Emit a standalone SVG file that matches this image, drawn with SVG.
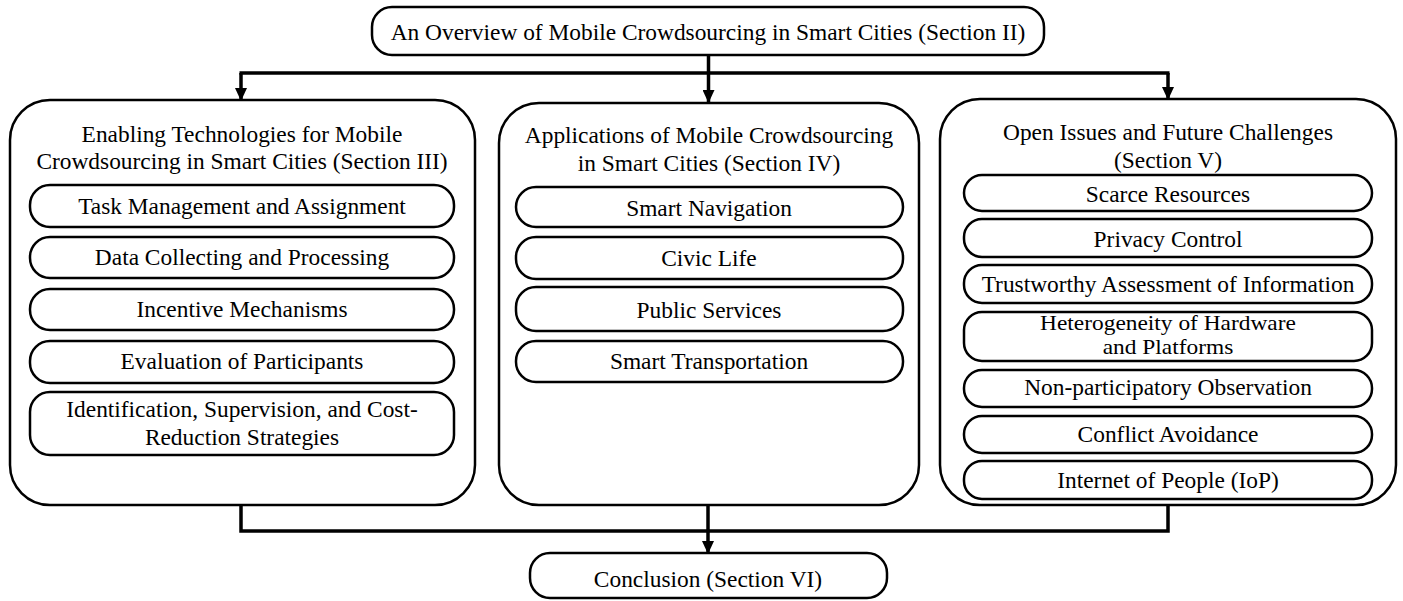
<svg xmlns="http://www.w3.org/2000/svg" width="1403" height="601" viewBox="0 0 1403 601">
<style>
.box{fill:#fff;stroke:#000;stroke-width:2.5}
.sub{fill:#fff;stroke:#000;stroke-width:2.5}
.t{font-family:'Liberation Serif','DejaVu Serif',serif;font-size:23.4px;fill:#000;text-anchor:middle}
.t2{font-family:'Liberation Serif','DejaVu Serif',serif;font-size:20px;fill:#000;text-anchor:middle}
.c{fill:none;stroke:#000;stroke-width:3.5}
</style>
<defs>
<marker id="ah" markerWidth="13" markerHeight="12" refX="12" refY="6" orient="auto" markerUnits="userSpaceOnUse" viewBox="0 0 13 12">
<path d="M0,0 L13,6 L0,12 z" fill="#000"/>
</marker>
</defs>
<g id="connectors">
<path class="c" d="M708.5,55 V73"/>
<path class="c" d="M239.5,73 H1169.5"/>
<path class="c" d="M241,73 V100" marker-end="url(#ah)"/>
<path class="c" d="M708.5,73 V102" marker-end="url(#ah)"/>
<path class="c" d="M1168,73 V99" marker-end="url(#ah)"/>
<path class="c" d="M241,505 V531 H1168 V505"/>
<path class="c" d="M708,505 V553" marker-end="url(#ah)"/>
</g>
<g id="top">
<rect class="box" x="372" y="7" width="672" height="48" rx="20"/>
<text class="t" x="708" y="40">An Overview of Mobile Crowdsourcing in Smart Cities (Section II)</text>
</g>
<g id="sec3">
<rect class="box" x="10" y="100" width="465" height="405" rx="40"/>
<text class="t" x="242" y="142">Enabling Technologies for Mobile</text>
<text class="t" x="242" y="169">Crowdsourcing in Smart Cities (Section III)</text>
</g>
<g id="s3-1"><rect class="sub" x="30" y="185" width="424" height="42" rx="20"/><text class="t" x="242" y="214">Task Management and Assignment</text></g>
<g id="s3-2"><rect class="sub" x="30" y="237" width="424" height="41" rx="20"/><text class="t" x="242" y="265">Data Collecting and Processing</text></g>
<g id="s3-3"><rect class="sub" x="30" y="289" width="424" height="41" rx="20"/><text class="t" x="242" y="317">Incentive Mechanisms</text></g>
<g id="s3-4"><rect class="sub" x="30" y="341" width="424" height="42" rx="20"/><text class="t" x="242" y="369">Evaluation of Participants</text></g>
<g id="s3-5"><rect class="sub" x="30" y="392" width="424" height="63" rx="20"/><text class="t" x="242" y="417">Identification, Supervision, and Cost-</text><text class="t" x="242" y="445">Reduction Strategies</text></g>
<g id="sec4">
<rect class="box" x="499" y="103" width="420" height="402" rx="40"/>
<text class="t" x="709" y="143">Applications of Mobile Crowdsourcing</text>
<text class="t" x="709" y="171">in Smart Cities (Section IV)</text>
</g>
<g id="s4-1"><rect class="sub" x="516" y="187" width="387" height="40" rx="20"/><text class="t" x="709" y="216">Smart Navigation</text></g>
<g id="s4-2"><rect class="sub" x="516" y="237" width="387" height="42" rx="20"/><text class="t" x="709" y="266">Civic Life</text></g>
<g id="s4-3"><rect class="sub" x="516" y="287" width="387" height="44" rx="20"/><text class="t" x="709" y="318">Public Services</text></g>
<g id="s4-4"><rect class="sub" x="516" y="341" width="387" height="41" rx="20"/><text class="t" x="709" y="369">Smart Transportation</text></g>
<g id="sec5">
<rect class="box" x="940" y="99" width="456" height="406" rx="40"/>
<text class="t" x="1168" y="140">Open Issues and Future Challenges</text>
<text class="t" x="1168" y="168">(Section V)</text>
</g>
<g id="s5-1"><rect class="sub" x="964" y="175" width="408" height="36" rx="18"/><text class="t" x="1168" y="202">Scarce Resources</text></g>
<g id="s5-2"><rect class="sub" x="964" y="219" width="408" height="38" rx="18"/><text class="t" x="1168" y="247">Privacy Control</text></g>
<g id="s5-3"><rect class="sub" x="964" y="265" width="408" height="38" rx="18"/><text class="t" x="1168" y="292">Trustworthy Assessment of Information</text></g>
<g id="s5-4"><rect class="sub" x="964" y="312" width="408" height="49" rx="18"/><text class="t2" x="1168" y="330" transform="matrix(1.17,0,0,1,-198.56,0)">Heterogeneity of Hardware</text><text class="t2" x="1168" y="354" transform="matrix(1.17,0,0,1,-198.56,0)">and Platforms</text></g>
<g id="s5-5"><rect class="sub" x="964" y="370" width="408" height="37" rx="18"/><text class="t" x="1168" y="395">Non-participatory Observation</text></g>
<g id="s5-6"><rect class="sub" x="964" y="416" width="408" height="37" rx="18"/><text class="t" x="1168" y="442">Conflict Avoidance</text></g>
<g id="s5-7"><rect class="sub" x="964" y="461" width="408" height="38" rx="18"/><text class="t" x="1168" y="488">Internet of People (IoP)</text></g>
<g id="conclusion">
<rect class="box" x="530" y="553" width="357" height="45" rx="20"/>
<text class="t" x="708" y="587">Conclusion (Section VI)</text>
</g>
</svg>
